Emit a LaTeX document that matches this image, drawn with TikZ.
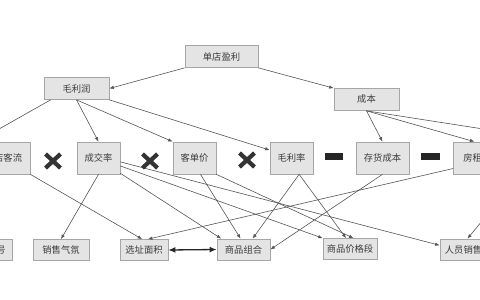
\documentclass[tikz,border=0pt]{standalone}
\usepackage{fontspec}
\newfontfamily\cjk{Noto Sans CJK SC}
\usetikzlibrary{arrows.meta}
\definecolor{boxfill}{HTML}{E4E4E4}
\definecolor{boxline}{HTML}{A6A6A6}
\definecolor{txt}{HTML}{3C3C3C}
\definecolor{edgec}{HTML}{555555}
\definecolor{markc}{HTML}{333333}
\begin{document}
\begin{tikzpicture}[x=1pt,y=-1pt,
  box/.style={draw=boxline,fill=boxfill,line width=0.7pt,inner sep=0pt,text=txt,font=\cjk\fontsize{9.3}{10}\selectfont},
  topbox/.style={box,minimum height=22pt},
  midbox/.style={box,minimum height=32pt},
  botbox/.style={box,minimum height=21pt},
  link/.style={draw=edgec,line width=0.6pt,-{Latex[length=4.5pt,width=3.5pt]}},
  twoway/.style={draw=black!85,line width=1.3pt,{Latex[length=7pt,width=6pt]}-{Latex[length=7pt,width=6pt]}},
  cross/.style={draw=markc,line width=4.2pt},
  minus/.style={fill=black!85,draw=none}
]
\useasboundingbox[fill=white] (0,0) rectangle (480,300);

% top levels
\node[topbox,minimum width=73pt] (dd) at (221.5,56.5) {单店盈利};
\node[topbox,minimum width=65pt] (mlr) at (76.5,88.5) {毛利润};
\node[topbox,minimum width=65pt] (cb) at (366.5,99.5) {成本};

% middle row
\node[midbox,minimum width=53pt] (jdkl) at (3.5,158) {进店客流};
\node[midbox,minimum width=43pt] (cjl) at (98.5,158) {成交率};
\node[midbox,minimum width=43pt] (kdj) at (194.5,158) {客单价};
\node[midbox,minimum width=43pt] (mll) at (291.5,158) {毛利率};
\node[midbox,minimum width=53pt] (chcb) at (382.5,158) {存货成本};
\node[midbox,minimum width=57pt] (fz) at (482,158) {房租成本};
\coordinate (offA) at (567,142);
\coordinate (offB) at (521,174);

% bottom row
\node[botbox,minimum width=50pt] (mdzh) at (-13,250) {门店字号};
\node[botbox,minimum width=56pt] (xsqf) at (61,250) {销售气氛};
\node[botbox,minimum width=48pt] (xzmj) at (144,250) {选址面积};
\node[botbox,minimum width=53pt] (spzh) at (243.5,249.5) {商品组合};
\node[botbox,minimum width=54pt] (spjgd) at (350,249) {商品价格段};
\node[botbox,minimum width=47pt] (rysx) at (463.5,249.5) {人员销售};

% connectors
\draw[link] (dd.south west) -- (mlr.east);
\draw[link] (dd.south east) -- (cb.north west);
\draw[link] ([xshift=7pt]mlr.south west) -- (jdkl.north west);
\draw[link] (mlr.south) -- (cjl.north);
\draw[link] (mlr.south) -- (kdj.north west);
\draw[link] (mlr.south east) -- (mll.160);
\draw[link] (cb.south) -- (chcb.north);
\draw[link] (cb.south) -- (fz.115);
\draw[link] (cb.south) -- (offA);

\draw[link] (jdkl.south east) -- (xzmj.100);
\draw[link] (cjl.south) -- (xsqf.north);
\draw[link] (cjl.-35) -- (spzh.154);
\draw[link] (cjl.-20) -- (spjgd.north west);
\draw[link] (cjl.-10) -- (rysx.170);
\draw[link] (kdj.-70) -- (spzh.105);
\draw[link] (kdj.south east) -- (spjgd.72);
\draw[link] (mll.-65) -- (spzh.50);
\draw[link] (mll.-65) -- (spjgd.110);
\draw[link] (chcb.south) -- (spzh.east);
\draw[link] (fz.200) -- (xzmj.70);
\draw[link] (offB) -- (rysx.70);
\draw[twoway] (xzmj.east) -- (spzh.west);

% operators
\foreach \cx/\cy in {53/161, 150/161, 247/160} {
  \draw[cross] (\cx-7.5,\cy-7) -- (\cx+7.5,\cy+7);
  \draw[cross] (\cx-7.5,\cy+7) -- (\cx+7.5,\cy-7);
}
\fill[minus] (325,153) rectangle (343,159.5);
\fill[minus] (421,153) rectangle (440,159.5);
\end{tikzpicture}
\end{document}
